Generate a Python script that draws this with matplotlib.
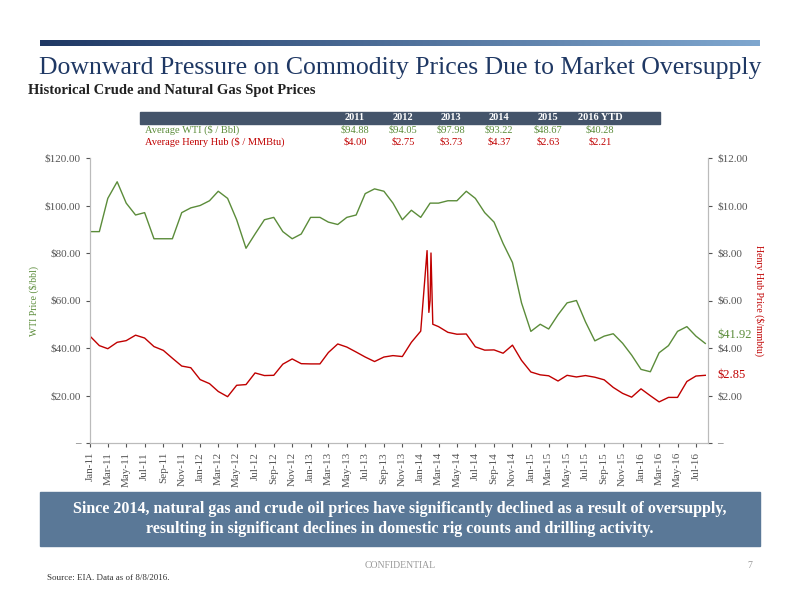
import matplotlib
matplotlib.use("Agg")
import matplotlib.pyplot as plt
import numpy as np
import pandas as pd
from matplotlib.patches import Rectangle
from matplotlib.colors import LinearSegmentedColormap

plt.rcParams['font.family'] = ['Liberation Serif', 'DejaVu Serif']

wti = [89, 89, 103, 110, 101, 96, 97, 86, 86, 86, 97, 99,
       100, 102, 106, 103, 94, 82, 88, 94, 95, 89, 86, 88,
       95, 95, 93, 92, 95, 96, 105, 107, 106, 101, 94, 98,
       95, 101, 101, 102, 102, 106, 103, 97, 93, 84, 76, 59,
       47, 50, 48, 54, 59, 60, 51, 43, 45, 46, 42, 37,
       31, 30, 38, 41, 47, 49, 45, 41.92]
hh = [4.5, 4.1, 3.97, 4.24, 4.31, 4.54, 4.42, 4.06, 3.90, 3.57, 3.24, 3.17,
      2.67, 2.50, 2.17, 1.95, 2.43, 2.46, 2.95, 2.84, 2.85, 3.32, 3.54, 3.34,
      3.33, 3.33, 3.81, 4.17, 4.04, 3.83, 3.62, 3.43, 3.62, 3.68, 3.64, 4.24,
      4.71, 6.00, 4.90, 4.66, 4.58, 4.59, 4.05, 3.91, 3.92, 3.78, 4.12, 3.48,
      2.99, 2.87, 2.83, 2.61, 2.85, 2.78, 2.84, 2.77, 2.66, 2.34, 2.09, 1.93,
      2.28, 1.99, 1.73, 1.92, 1.92, 2.59, 2.82, 2.85]
spike_dates = ['2014-01-22', '2014-01-28', '2014-02-04', '2014-02-10']
spike_vals = [8.1, 5.5, 8.0, 5.0]

years = ['2011', '2012', '2013', '2014', '2015', '2016 YTD']
avg_wti = ['$94.88', '$94.05', '$97.98', '$93.22', '$48.67', '$40.28']
avg_hh = ['$4.00', '$2.75', '$3.73', '$4.37', '$2.63', '$2.21']

dates = pd.date_range('2011-01-01', periods=len(wti), freq='MS')
hh_s = pd.concat([pd.Series(hh, index=dates),
                  pd.Series(spike_vals, index=pd.to_datetime(spike_dates))]).sort_index()

green = '#5B8C3A'
red = '#C00000'
navy = '#1F3864'

fig = plt.figure(figsize=(8, 6), dpi=100)

gax = fig.add_axes([0.05, 1 - 46/600, 0.9, 6/600])
grad = np.linspace(0, 1, 256).reshape(1, -1)
cm = LinearSegmentedColormap.from_list('g', ['#1F3864', '#7FA7CF'])
gax.imshow(grad, aspect='auto', cmap=cm)
gax.axis('off')

fig.text(0.5, 1 - 68/600, 'Downward Pressure on Commodity Prices Due to Market Oversupply',
         ha='center', va='center', fontsize=18.5, color=navy)
fig.text(28/800, 1 - 91/600, 'Historical Crude and Natural Gas Spot Prices',
         ha='left', va='center', fontsize=10.5, color='#222222', weight='bold')

fig.patches.append(Rectangle((140/800, 1 - 124/600), 520/800, 12/600,
                             transform=fig.transFigure, color='#44546A'))
colx = [355, 403, 451, 499, 548, 600]
for x, y_, w, h in zip(colx, years, avg_wti, avg_hh):
    fig.text(x/800, 1 - 118/600, y_, ha='center', va='center', fontsize=7.5, color='white', weight='bold')
    fig.text(x/800, 1 - 130/600, w, ha='center', va='center', fontsize=7.5, color=green)
    fig.text(x/800, 1 - 142/600, h, ha='center', va='center', fontsize=7.5, color=red)
fig.text(145/800, 1 - 130/600, 'Average WTI ($ / Bbl)', ha='left', va='center', fontsize=7.5, color=green)
fig.text(145/800, 1 - 142/600, 'Average Henry Hub ($ / MMBtu)', ha='left', va='center', fontsize=7.5, color=red)

ax = fig.add_axes([90/800, 1 - 443/600, 618/800, 285/600])
ax.plot(dates, wti, color=green, lw=1)
ax.set_ylim(0, 120)
ax.set_xlim(pd.Timestamp('2011-01-01'), pd.Timestamp('2016-08-10'))
ax2 = ax.twinx()
ax2.plot(hh_s.index, hh_s.values, color=red, lw=1)
ax2.set_ylim(0, 12)

ax.set_yticks(np.arange(0, 121, 20))
ax.set_yticklabels(['–'] + [f'${v:.2f}' for v in np.arange(20, 121, 20)])
ax2.set_yticks(np.arange(0, 13, 2))
ax2.set_yticklabels(['–'] + [f'${v:.2f}' for v in np.arange(2, 13, 2)])
ticks = pd.date_range('2011-01-01', '2016-07-01', freq='2MS')
ax.set_xticks(ticks)
ax.set_xticklabels([d.strftime('%b-%y') for d in ticks], rotation=90)
for a in (ax, ax2):
    a.tick_params(labelsize=8, colors='#555555', length=3)
    for s in a.spines.values():
        s.set_color('#BBBBBB')
    a.spines['top'].set_visible(False)
ax.set_ylabel('WTI Price ($/bbl)', fontsize=7, color=green)
ax2.set_ylabel('Henry Hub Price ($/mmbtu)', fontsize=7, color=red, rotation=270, labelpad=12)
ax2.text(1.015, 41.92/120 + 0.03, '$41.92', transform=ax2.transAxes, color=green, fontsize=9, va='center')
ax2.text(1.015, 2.85/12, '$2.85', transform=ax2.transAxes, color=red, fontsize=9, va='center')

fig.patches.append(Rectangle((40/800, 1 - 546/600), 720/800, 54/600,
                             transform=fig.transFigure, color='#5A7897'))
fig.text(0.5, 1 - 519/600,
         'Since 2014, natural gas and crude oil prices have significantly declined as a result of oversupply,\nresulting in significant declines in domestic rig counts and drilling activity.',
         ha='center', va='center', fontsize=11.5, color='white', weight='bold', linespacing=1.3)
fig.text(0.5, 1 - 565/600, 'CONFIDENTIAL', ha='center', va='center', fontsize=7, color='#999999')
fig.text(750/800, 1 - 565/600, '7', ha='center', va='center', fontsize=7, color='#999999')
fig.text(47/800, 1 - 578/600, 'Source: EIA. Data as of 8/8/2016.', ha='left', va='center', fontsize=6.5, color='#333333')

fig.savefig('out.png', dpi=100)
